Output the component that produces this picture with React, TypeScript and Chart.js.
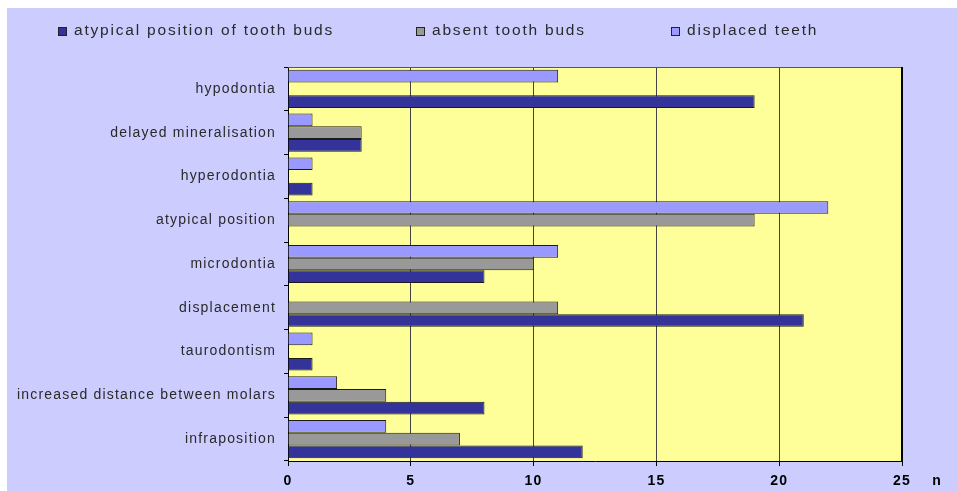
import React, { useEffect, useRef } from "react";
import { Chart, registerables } from "chart.js";

Chart.register(...registerables);

const categories = [
  "hypodontia",
  "delayed mineralisation",
  "hyperodontia",
  "atypical position",
  "microdontia",
  "displacement",
  "taurodontism",
  "increased distance between molars",
  "infraposition",
];
const displacedTeeth = [11, 1, 1, 22, 11, 0, 1, 2, 4];
const absentToothBuds = [0, 3, 0, 19, 10, 11, 0, 4, 7];
const atypicalPositionOfToothBuds = [19, 3, 1, 0, 8, 21, 1, 8, 12];
const xTicks = [0, 5, 10, 15, 20, 25];
const legendOrder = [2, 1, 0];

const FONT = "'Liberation Sans', Arial, Helvetica, sans-serif";

const spacingPlugin = {
  id: "spacing",
  beforeLayout(chart: any) {
    chart.ctx.letterSpacing = "1.2px";
  },
  beforeDraw(chart: any) {
    const { ctx, chartArea } = chart;
    ctx.letterSpacing = "1.2px";
    ctx.save();
    ctx.fillStyle = "#ffff99";
    ctx.fillRect(chartArea.left, chartArea.top, chartArea.right - chartArea.left, chartArea.bottom - chartArea.top);
    ctx.restore();
  },
  afterDraw(chart: any) {
    const { ctx, chartArea } = chart;
    ctx.save();
    ctx.strokeStyle = "#555555";
    ctx.lineWidth = 1;
    ctx.beginPath();
    ctx.moveTo(chartArea.left, chartArea.top + 0.5);
    ctx.lineTo(chartArea.right, chartArea.top + 0.5);
    ctx.stroke();
    ctx.strokeStyle = "#000000";
    ctx.lineWidth = 2;
    ctx.beginPath();
    ctx.moveTo(chartArea.right, chartArea.top);
    ctx.lineTo(chartArea.right, chartArea.bottom);
    ctx.stroke();
    // axis unit
    ctx.letterSpacing = "1px";
    ctx.fillStyle = "#000000";
    ctx.font = `bold 14px ${FONT}`;
    ctx.textAlign = "center";
    ctx.textBaseline = "middle";
    ctx.fillText("n", chartArea.right + 35, chartArea.bottom + 20);
    // legend
    const boxX = [51, 409, 664];
    ctx.letterSpacing = "1.8px";
    ctx.font = `15.5px ${FONT}`;
    ctx.textAlign = "left";
    ctx.textBaseline = "alphabetic";
    legendOrder.forEach((di, i) => {
      const ds = chart.data.datasets[di];
      ctx.fillStyle = ds.backgroundColor;
      ctx.fillRect(boxX[i], 19, 9, 9);
      ctx.strokeStyle = "#222222";
      ctx.lineWidth = 1;
      ctx.strokeRect(boxX[i] + 0.5, 19.5, 8, 8);
      ctx.fillStyle = "#2a2a2a";
      ctx.fillText(ds.label, boxX[i] + 16, 27);
    });
    ctx.restore();
  },
};

export default function App() {
  const ref = useRef<HTMLCanvasElement | null>(null);

  useEffect(() => {
    document.body.style.margin = "0";
    const chart = new Chart(ref.current as HTMLCanvasElement, {
      type: "bar",
      data: {
        labels: categories,
        datasets: [
          {
            label: "displaced teeth",
            data: displacedTeeth,
            backgroundColor: "#9999ff",
            borderColor: "#1a1a1a",
            borderWidth: 1,
          },
          {
            label: "absent tooth buds",
            data: absentToothBuds,
            backgroundColor: "#999999",
            borderColor: "#1a1a1a",
            borderWidth: 1,
          },
          {
            label: "atypical position of tooth buds",
            data: atypicalPositionOfToothBuds,
            backgroundColor: "#333399",
            borderColor: "#1a1a1a",
            borderWidth: 1,
          },
        ],
      },
      options: {
        indexAxis: "y",
        responsive: false,
        animation: false,
        devicePixelRatio: 1,
        categoryPercentage: 0.87,
        barPercentage: 1,
        layout: { padding: { top: 59, right: 55, bottom: 0, left: 0 } },
        plugins: {
          legend: { display: false },
          tooltip: { enabled: false },
        },
        scales: {
          x: {
            min: 0,
            max: 25,
            afterFit(scale: any) {
              scale.height = 30;
            },
            afterBuildTicks(scale: any) {
              scale.ticks = xTicks.map((v) => ({ value: v }));
            },
            grid: {
              color: "#444444",
              lineWidth: 1,
              drawTicks: true,
              tickLength: 5,
              tickColor: "#000000",
            },
            border: { display: true, color: "#000000", width: 1 },
            ticks: {
              color: "#000000",
              padding: 7,
              font: { family: FONT, size: 14, weight: "bold" },
            },
          },
          y: {
            afterFit(scale: any) {
              scale.width = 281;
            },
            grid: {
              drawOnChartArea: false,
              drawTicks: true,
              tickLength: 4,
              color: "#000000",
              offset: true,
            },
            border: { display: true, color: "#000000", width: 1 },
            ticks: {
              color: "#2a2a2a",
              padding: 8,
              font: { family: FONT, size: 14 },
            },
          },
        },
      },
      plugins: [spacingPlugin],
    } as any);
    return () => chart.destroy();
  }, []);

  return (
    <div style={{ padding: "8px 0 0 7px" }}>
      <canvas
        ref={ref}
        width={950}
        height={483}
        style={{ display: "block", width: 950, height: 483, background: "#ccccff" }}
      />
    </div>
  );
}
